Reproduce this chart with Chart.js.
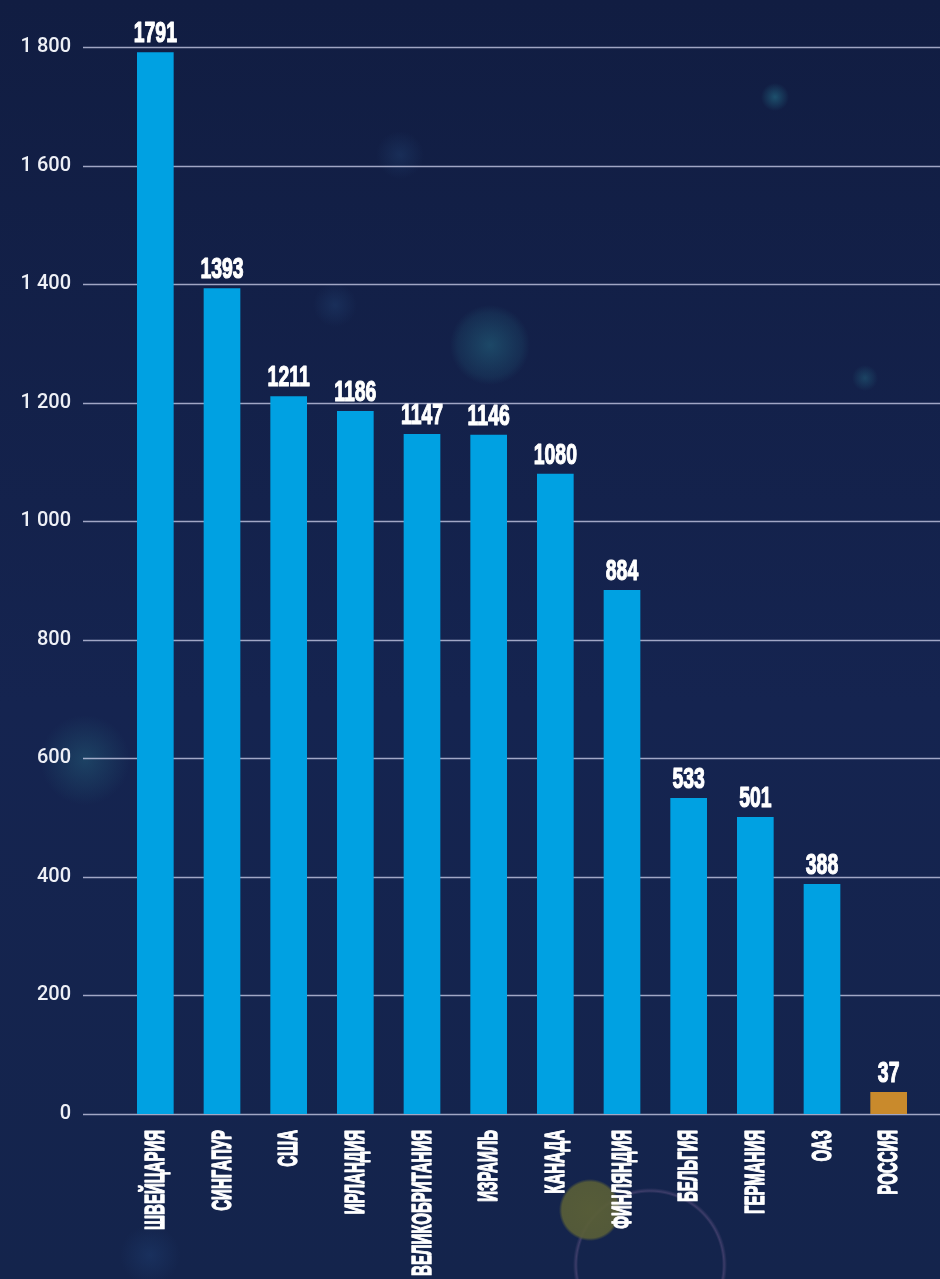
<!DOCTYPE html>
<html>
<head>
<meta charset="utf-8">
<script src="https://cdn.jsdelivr.net/npm/chart.js@4.4.1/dist/chart.umd.min.js"></script>
<style>
    html, body {
        margin: 0;
        padding: 0;
    }
    body {
        width: 940px;
        height: 1279px;
        overflow: hidden;
        background:
            radial-gradient(circle at 490px 345px, rgba(40, 120, 140, 0.45) 0, rgba(40, 120, 140, 0.15) 32px, rgba(40, 120, 140, 0) 40px),
            radial-gradient(circle at 775px 97px, rgba(40, 130, 150, 0.5) 0, rgba(40, 130, 150, 0) 14px),
            radial-gradient(circle at 865px 378px, rgba(40, 120, 140, 0.4) 0, rgba(40, 120, 140, 0) 13px),
            radial-gradient(circle at 85px 760px, rgba(40, 110, 130, 0.4) 0, rgba(40, 110, 130, 0) 45px),
            radial-gradient(circle at 400px 155px, rgba(40, 80, 130, 0.3) 0, rgba(40, 80, 130, 0) 24px),
            radial-gradient(circle at 335px 305px, rgba(40, 80, 130, 0.3) 0, rgba(40, 80, 130, 0) 22px),
            radial-gradient(circle at 590px 1210px, rgba(90, 95, 55, 0.95) 0, rgba(90, 95, 55, 0.9) 28px, rgba(90, 95, 55, 0) 31px),
            radial-gradient(circle at 650px 1265px, rgba(0, 0, 0, 0) 0, rgba(0, 0, 0, 0) 72px, rgba(110, 90, 140, 0.45) 74px, rgba(0, 0, 0, 0) 77px),
            radial-gradient(circle at 150px 1255px, rgba(30, 60, 110, 0.5) 0, rgba(30, 60, 110, 0) 30px),
            linear-gradient(180deg, #111d42 0%, #152450 55%, #14244c 100%);
    }
    #wrap {
        position: relative;
        width: 940px;
        height: 1279px;
    }
</style>
</head>
<body>
<div id="wrap"><canvas id="incomeChart"></canvas></div>
<script>
const countries = ['ШВЕЙЦАРИЯ', 'СИНГАПУР', 'США', 'ИРЛАНДИЯ', 'ВЕЛИКОБРИТАНИЯ', 'ИЗРАИЛЬ',
    'КАНАДА', 'ФИНЛЯНДИЯ', 'БЕЛЬГИЯ', 'ГЕРМАНИЯ', 'ОАЗ', 'РОССИЯ'];
const values = [1791, 1393, 1211, 1186, 1147, 1146, 1080, 884, 533, 501, 388, 37];
const yTicks = [0, 200, 400, 600, 800, 1000, 1200, 1400, 1600, 1800];
const highlighted = 'РОССИЯ';

document.addEventListener('DOMContentLoaded', function() {
    const valueFont = 'bold 30px "Liberation Sans Narrow", sans-serif';
    const nameFont = 'bold 28px "Liberation Sans Narrow", sans-serif';

    // Horizontal lines from the y scale, wider than the plot area
    const gridPlugin = {
        id: 'wideGrid',
        beforeDatasetsDraw(chart) {
            const ctx = chart.ctx;
            const y = chart.scales.y;
            ctx.save();
            ctx.strokeStyle = 'rgba(196, 200, 228, 0.8)';
            ctx.lineWidth = 1.6;
            y.ticks.forEach(t => {
                const py = Math.round(y.getPixelForValue(t.value)) + 0.5;
                ctx.beginPath();
                ctx.moveTo(83, py);
                ctx.lineTo(chart.width, py);
                ctx.stroke();
            });
            ctx.restore();
        }
    };

    // Value labels above bars and rotated category labels (very condensed)
    const labelPlugin = {
        id: 'barLabels',
        afterDatasetsDraw(chart) {
            const ctx = chart.ctx;
            const meta = chart.getDatasetMeta(0);
            const xScale = chart.scales.x;
            ctx.save();
            ctx.fillStyle = '#ffffff';
            ctx.strokeStyle = '#ffffff';
            ctx.lineJoin = 'round';

            ctx.font = valueFont;
            const digitScale = 10.8 / ctx.measureText('0').width;
            ctx.font = nameFont;
            const nameScale = 100 / ctx.measureText('ШВЕЙЦАРИЯ').width;

            meta.data.forEach((bar, i) => {
                ctx.save();
                ctx.translate(bar.x, bar.y - 10);
                ctx.scale(digitScale, 1);
                ctx.font = valueFont;
                ctx.textAlign = 'center';
                ctx.textBaseline = 'alphabetic';
                ctx.lineWidth = 1.2;
                ctx.fillText(String(values[i]), 0, 0);
                ctx.strokeText(String(values[i]), 0, 0);
                ctx.restore();

                ctx.save();
                ctx.translate(xScale.getPixelForTick(i), chart.chartArea.bottom + 16);
                ctx.rotate(-Math.PI / 2);
                ctx.scale(nameScale, 1);
                ctx.font = nameFont;
                ctx.textAlign = 'right';
                ctx.textBaseline = 'middle';
                ctx.lineWidth = 1.4;
                ctx.fillText(countries[i], 0, 1);
                ctx.strokeText(countries[i], 0, 1);
                ctx.restore();
            });
            ctx.restore();
        }
    };

    const ctx = document.getElementById('incomeChart').getContext('2d');
    const incomeChart = new Chart(ctx, {
        type: 'bar',
        data: {
            labels: countries,
            datasets: [{
                data: values,
                backgroundColor: countries.map(c => c === highlighted ? '#c98a2c' : '#00a1e2'),
                borderWidth: 0,
                categoryPercentage: 1,
                barPercentage: 0.55
            }]
        },
        options: {
            responsive: true,
            maintainAspectRatio: false,
            animation: false,
            layout: {
                padding: { top: 47, right: 18, bottom: 157, left: 0 }
            },
            scales: {
                x: {
                    ticks: { display: false },
                    grid: { display: false },
                    border: { display: false }
                },
                y: {
                    min: 0,
                    max: 1800,
                    afterFit: function(scale) {
                        scale.width = 122;
                        // the big label gap should not push the plot down
                        scale.paddingTop = 12;
                        scale.paddingBottom = 12;
                    },
                    afterBuildTicks: function(scale) {
                        scale.ticks = yTicks.map(v => ({ value: v }));
                    },
                    ticks: {
                        padding: 51,
                        color: '#eef0f6',
                        font: { family: 'Roboto', size: 20, weight: '500' },
                        callback: function(value) {
                            return String(value).replace(/\B(?=(\d{3})+(?!\d))/g, ' ');
                        }
                    },
                    grid: { display: false, drawTicks: false },
                    border: { display: false }
                }
            },
            plugins: {
                legend: { display: false },
                tooltip: { enabled: false }
            }
        },
        plugins: [gridPlugin, labelPlugin]
    });
});
</script>
</body>
</html>
